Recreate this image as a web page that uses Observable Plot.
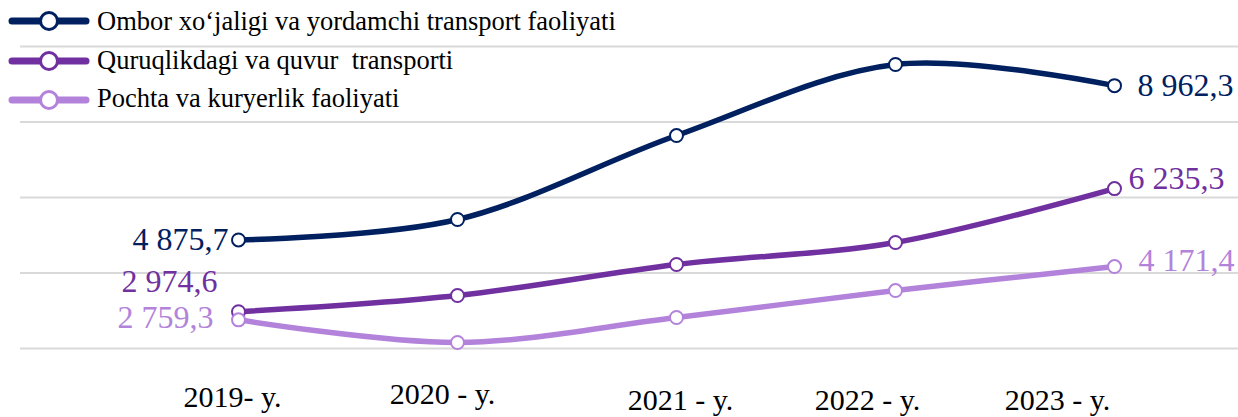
<!DOCTYPE html>
<html>
<head>
<meta charset="utf-8">
<script src="https://cdn.jsdelivr.net/npm/d3@7"></script>
<script src="https://cdn.jsdelivr.net/npm/@observablehq/plot@0.6"></script>
<style>
  html, body { margin: 0; padding: 0; background: #fff; }
  #wrap { position: relative; width: 1238px; height: 417px; overflow: hidden; }
  #chart { position: absolute; left: 0; top: 0; }
  #legend { position: absolute; left: 0; top: 0; }
  g[aria-label="year labels"] text { filter: drop-shadow(1.5px 2px 1.2px rgba(0,0,0,0.45)); }
</style>
</head>
<body>
<div id="wrap">
  <div id="chart"></div>
  <div id="legend"></div>
</div>
<script>
// ---- data ----
const years = ["2019", "2020", "2021", "2022", "2023"];
const yearLabels = ["2019- y.", "2020 - y.", "2021 - y.", "2022 - y.", "2023 - y."];
const seriesNames = [
  "Ombor xo\u2018jaligi va yordamchi transport faoliyati",
  "Quruqlikdagi va quvur  transporti",
  "Pochta va kuryerlik faoliyati"
];
const omborValues = [4875.7, 5417, 7642, 9523, 8962.3];
const quruqlikValues = [2974.6, 3404, 4225, 4808, 6235.3];
const pochtaValues = [2759.3, 2159, 2821, 3536, 4171.4];
const gridTicks = [2000, 4000, 6000, 8000, 10000];

// ---- styling ----
const colors = ["#002060", "#7030A0", "#B383DB"];
const allValues = [omborValues, quruqlikValues, pochtaValues];
const serif = "Liberation Serif, Times New Roman, serif";
// label offsets for first / last data labels (per series)
const firstOffsets = [{dx: -10, dy: 0}, {dx: -21, dy: -30}, {dx: -25, dy: -2}];
const lastOffsets = [{dx: 23, dy: 0}, {dx: 14, dy: -10}, {dx: 24, dy: -6}];
// year label shifts (manual text boxes in the reference)
const yearShift = [{dx: -6, dy: 49}, {dx: -15, dy: 46}, {dx: 4, dy: 52}, {dx: -28, dy: 52}, {dx: -57, dy: 52}];

const fmt = v => d3.format(",.1f")(v).replace(/,/g, " ").replace(".", ",");

const series = seriesNames.map((name, i) =>
  years.map((y, j) => ({year: y, value: allValues[i][j], name}))
);

const marks = [
  Plot.gridY({ticks: gridTicks, stroke: "#d9d9d9", strokeOpacity: 1, strokeWidth: 2})
];
series.forEach((data, i) => {
  marks.push(Plot.line(data, {x: "year", y: "value", stroke: colors[i], strokeWidth: 5.5, curve: "cardinal"}));
});
series.forEach((data, i) => {
  marks.push(Plot.dot(data, {x: "year", y: "value", r: 6.5, fill: "white", stroke: colors[i], strokeWidth: 2}));
});
series.forEach((data, i) => {
  const first = data.slice(0, 1), last = data.slice(-1);
  marks.push(Plot.text(first, {x: "year", y: "value", text: d => fmt(d.value), textAnchor: "end",
    dx: firstOffsets[i].dx, dy: firstOffsets[i].dy, fill: colors[i], fontSize: 32, fontFamily: serif}));
  marks.push(Plot.text(last, {x: "year", y: "value", text: d => fmt(d.value), textAnchor: "start",
    dx: lastOffsets[i].dx, dy: lastOffsets[i].dy, fill: colors[i], fontSize: 32, fontFamily: serif}));
});
years.forEach((y, j) => {
  marks.push(Plot.text([{year: y, label: yearLabels[j]}], {x: "year", text: "label", frameAnchor: "bottom",
    dx: yearShift[j].dx, dy: yearShift[j].dy, lineAnchor: "middle", fill: "#000", fontSize: 30,
    fontFamily: serif, ariaLabel: "year labels"}));
});

const chart = Plot.plot({
  width: 1238,
  height: 417,
  marginLeft: 20,
  marginRight: 0,
  marginTop: 46,
  marginBottom: 69,
  x: {type: "point", domain: years, range: [238, 1114], padding: 0, axis: null},
  y: {domain: [2000, 10000], axis: null},
  style: {background: "white", overflow: "visible"},
  marks
});
document.getElementById("chart").appendChild(chart);

// legend (overlaid top-left, as in the reference)
const swatchY = [21, 61, 100];
const textY = [30, 69, 107];
const lsvg = d3.select("#legend").append("svg").attr("width", 700).attr("height", 125);
seriesNames.forEach((name, i) => {
  lsvg.append("line").attr("x1", 12).attr("x2", 86).attr("y1", swatchY[i]).attr("y2", swatchY[i])
    .attr("stroke", colors[i]).attr("stroke-width", 7).attr("stroke-linecap", "round");
  lsvg.append("circle").attr("cx", 49).attr("cy", swatchY[i]).attr("r", 8.5)
    .attr("fill", "white").attr("stroke", colors[i]).attr("stroke-width", 3);
  lsvg.append("text").attr("x", 97).attr("y", textY[i]).attr("font-family", serif)
    .attr("font-size", 26.5).attr("fill", "#000").style("white-space", "pre").text(name);
});
</script>
</body>
</html>
